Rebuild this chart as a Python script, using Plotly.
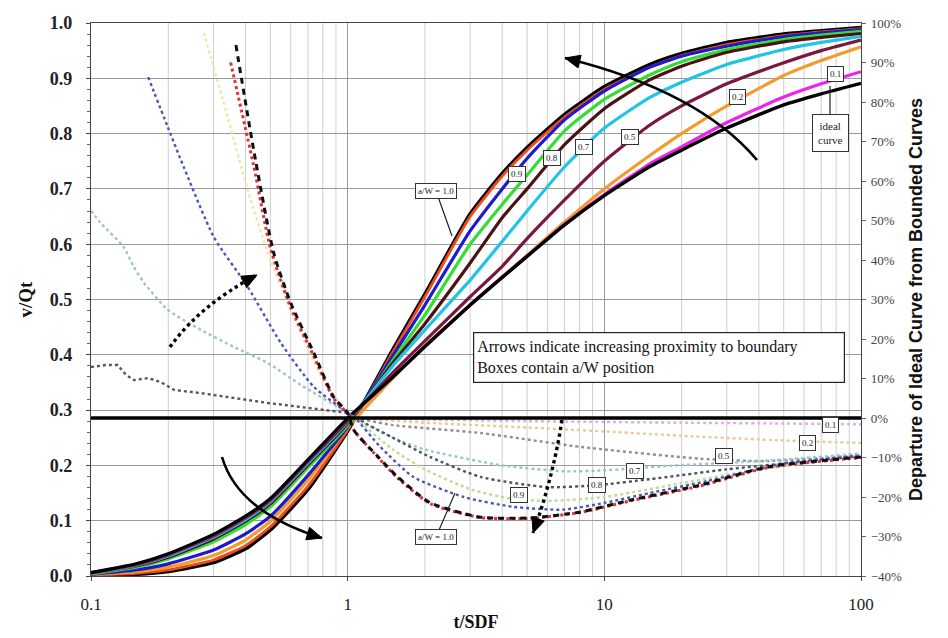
import math
import plotly.graph_objects as go

# ---------------- data ----------------
# Solid curves: v/Qt versus t/SDF (left axis)
x_grid = [0.1, 0.15, 0.2, 0.3, 0.4, 0.5, 0.7, 1, 1.5, 2, 3, 4, 5, 7, 10, 15, 20, 30, 50, 70, 100]
bound_top = [0.001, 0.003, 0.008, 0.024, 0.049, 0.083, 0.156, 0.262, 0.410, 0.510, 0.655, 0.728, 0.775, 0.835, 0.885, 0.925, 0.945, 0.965, 0.980, 0.986, 0.992]
aw_10 = [0.002, 0.005, 0.011, 0.029, 0.055, 0.089, 0.162, 0.264, 0.405, 0.505, 0.650, 0.723, 0.770, 0.830, 0.880, 0.920, 0.941, 0.961, 0.977, 0.984, 0.990]
aw_09 = [0.003, 0.011, 0.022, 0.047, 0.076, 0.108, 0.182, 0.270, 0.398, 0.490, 0.624, 0.700, 0.755, 0.825, 0.877, 0.920, 0.940, 0.958, 0.975, 0.982, 0.988]
aw_085 = [0.004, 0.016, 0.031, 0.062, 0.093, 0.125, 0.196, 0.272, 0.390, 0.472, 0.600, 0.672, 0.725, 0.805, 0.862, 0.906, 0.930, 0.952, 0.970, 0.978, 0.985]
aw_08 = [0.005, 0.018, 0.034, 0.067, 0.099, 0.131, 0.201, 0.276, 0.385, 0.456, 0.566, 0.648, 0.700, 0.780, 0.845, 0.897, 0.922, 0.947, 0.966, 0.974, 0.981]
aw_07 = [0.005, 0.019, 0.036, 0.070, 0.102, 0.134, 0.204, 0.278, 0.380, 0.445, 0.535, 0.605, 0.660, 0.740, 0.810, 0.865, 0.893, 0.925, 0.952, 0.965, 0.976]
aw_05 = [0.006, 0.020, 0.038, 0.072, 0.105, 0.137, 0.207, 0.280, 0.368, 0.425, 0.505, 0.560, 0.610, 0.680, 0.750, 0.815, 0.850, 0.890, 0.928, 0.950, 0.969]
aw_02 = [0.003, 0.008, 0.016, 0.037, 0.065, 0.099, 0.173, 0.268, 0.358, 0.416, 0.490, 0.541, 0.580, 0.640, 0.700, 0.760, 0.800, 0.850, 0.905, 0.932, 0.957]
aw_01 = [0.006, 0.021, 0.039, 0.074, 0.107, 0.139, 0.209, 0.284, 0.360, 0.415, 0.490, 0.540, 0.578, 0.636, 0.690, 0.745, 0.776, 0.820, 0.866, 0.890, 0.912]
ideal = [0.006, 0.022, 0.040, 0.075, 0.108, 0.140, 0.210, 0.285, 0.360, 0.415, 0.490, 0.540, 0.578, 0.635, 0.688, 0.740, 0.770, 0.810, 0.852, 0.872, 0.891]

# Departure curves (right axis, fraction)
dep10_x = [0.367, 0.43, 0.515, 0.6, 0.738, 0.882, 1.0, 1.055, 1.3, 1.565, 2.1, 3.29, 5.15, 8.06, 12.6, 23.6, 43.1, 100]
dep10_y = [0.944, 0.68, 0.418, 0.291, 0.165, 0.053, 0.013, -0.03, -0.095, -0.149, -0.215, -0.251, -0.253, -0.238, -0.208, -0.170, -0.124, -0.099]
dep10r_x = [0.35, 0.43, 0.5, 0.6, 0.74, 0.88, 1.0, 1.055, 1.3, 1.565, 2.1, 3.29, 5.15, 8.06, 12.6, 23.6, 43.1, 100]
dep10r_y = [0.90, 0.64, 0.43, 0.28, 0.155, 0.05, 0.01, -0.03, -0.097, -0.152, -0.217, -0.252, -0.254, -0.239, -0.21, -0.172, -0.126, -0.1]
dep_blue_x = [0.167, 0.199, 0.224, 0.301, 0.408, 0.549, 0.738, 1.0, 1.07, 1.34, 1.8, 2.83, 4.43, 6.9, 10, 15, 25, 50, 100]
dep_blue_y = [0.863, 0.737, 0.653, 0.458, 0.332, 0.19, 0.079, 0.013, 0.0, -0.073, -0.149, -0.2, -0.225, -0.232, -0.215, -0.19, -0.16, -0.115, -0.097]
dep_yel_x = [0.275, 0.335, 0.408, 0.489, 0.60, 0.785, 1.0, 1.07]
dep_yel_y = [0.975, 0.78, 0.577, 0.418, 0.273, 0.109, 0.013, 0.0]
dep_cyan_x = [0.1, 0.109, 0.134, 0.147, 0.161, 0.199, 0.268, 0.36, 0.489, 0.656, 1.0, 1.07, 1.5, 2, 4, 7, 9.6, 12.8, 19, 43, 100]
dep_cyan_y = [0.525, 0.494, 0.433, 0.382, 0.342, 0.274, 0.223, 0.18, 0.139, 0.084, 0.013, 0.0, -0.05, -0.08, -0.12, -0.135, -0.133, -0.128, -0.12, -0.108, -0.09]
dep_dark_x = [0.1, 0.114, 0.127, 0.137, 0.147, 0.167, 0.187, 0.211, 0.268, 0.36, 0.489, 0.656, 1.0, 1.07]
dep_dark_y = [0.129, 0.134, 0.134, 0.109, 0.096, 0.101, 0.091, 0.071, 0.063, 0.051, 0.038, 0.028, 0.013, 0.0]
dep01_x = [1.07, 2, 5, 10, 20, 50, 100]
dep01_y = [0.0, -0.004, -0.008, -0.01, -0.012, -0.014, -0.016]
dep02_x = [1.07, 2, 5, 10, 20, 50, 100]
dep02_y = [0.0, -0.012, -0.024, -0.034, -0.045, -0.057, -0.063]
dep05_x = [1.07, 1.5, 3.29, 8.06, 23.6, 43, 100]
dep05_y = [0.0, -0.018, -0.038, -0.073, -0.103, -0.109, -0.094]
dep08_x = [1.07, 1.5, 2.1, 3.29, 6.0, 9.4, 15, 30, 60, 100]
dep08_y = [0.0, -0.05, -0.099, -0.149, -0.175, -0.17, -0.155, -0.13, -0.11, -0.095]
dep09_x = [1.07, 1.5, 2, 3, 4.4, 6, 10, 20, 40, 100]
dep09_y = [0.0, -0.08, -0.13, -0.18, -0.205, -0.21, -0.2, -0.165, -0.13, -0.097]

x_tick_vals = [0.1, 1, 10, 100]
x_tick_text = ["0.1", "1", "10", "100"]

upper_labels = ["a/W = 1.0", "0.9", "0.8", "0.7", "0.5", "0.2", "0.1"]
lower_labels = ["a/W = 1.0", "0.9", "0.8", "0.7", "0.5", "0.2", "0.1"]
note_text = "Arrows indicate increasing proximity to boundary<br>Boxes contain a/W position"

# ---------------- layout geometry ----------------
# The page body adds an 8px offset, so the figure is 8px smaller and margins shifted.
OFF = 8
W, H = 948 - OFF, 638 - OFF
L, R, T, B = 91, 861, 23, 576          # plot area in window pixels
PW, PH = R - L, B - T


def P(px, py):
    return (px - L) / PW, (B - py) / PH


SERIF = "Liberation Serif"
SANS = "Liberation Sans"

fig = go.Figure()


def dep(x, y, color, dash="dot", width=2.4, shape="spline"):
    fig.add_trace(go.Scatter(x=x, y=y, yaxis="y2", mode="lines", hoverinfo="skip",
                             line=dict(color=color, width=width, dash=dash, shape=shape, smoothing=0.6)))


dep(dep01_x, dep01_y, "#d9b0e0")
dep(dep02_x, dep02_y, "#f0c890")
dep(dep05_x, dep05_y, "#8f8f98")
dep(dep_cyan_x, dep_cyan_y, "#9cc4cc")
dep(dep08_x, dep08_y, "#50505e")
dep(dep09_x, dep09_y, "#bcdc98")
dep(dep_yel_x, dep_yel_y, "#ece8a4")
dep(dep_dark_x, dep_dark_y, "#55556a", shape="linear")
dep(dep_blue_x, dep_blue_y, "#4a58b8")
dep(dep10r_x, dep10r_y, "#e0303c", dash="dot", width=3)
dep(dep10_x, dep10_y, "#111111", dash="6px,5px", width=3)


def solid(y, color, width=3.2):
    fig.add_trace(go.Scatter(x=x_grid, y=y, mode="lines", hoverinfo="skip",
                             line=dict(color=color, width=width, shape="spline", smoothing=0.5)))


solid(bound_top, "#000000", 3.4)
solid(aw_10, "#f04a18", 2.8)
solid(aw_02, "#f39c2e")
solid(aw_09, "#1c1ccc")
solid(aw_085, "#33dd33")
solid(aw_08, "#4a1212")
solid(aw_07, "#22c4e6")
solid(aw_05, "#7a1840")
solid(aw_01, "#ee22ee")
solid(ideal, "#000000", 3.4)

shapes = []
# minor vertical grid lines of the log axis
for dec in (-1, 0, 1):
    for m in range(2, 10):
        xp = (dec + math.log10(m) + 1) / 3
        shapes.append(dict(type="line", xref="paper", yref="paper", x0=xp, x1=xp, y0=0, y1=1,
                           line=dict(color="#cfcfcf", width=1), layer="below"))
# 0% line of the right axis
shapes.append(dict(type="line", xref="paper", yref="y2", x0=0, x1=1, y0=0, y1=0,
                   line=dict(color="#000000", width=3.5), layer="above"))


def arrow(p0, c, p2, dash="solid", width=2.6):
    a, b, e = P(*p0), P(*c), P(*p2)
    shapes.append(dict(type="path", xref="paper", yref="paper",
                       path=f"M {a[0]},{a[1]} Q {b[0]},{b[1]} {e[0]},{e[1]}",
                       line=dict(color="#000000", width=width, dash=dash)))
    dx, dy = p2[0] - c[0], p2[1] - c[1]
    n = math.hypot(dx, dy)
    dx, dy = dx / n, dy / n
    hl, hw = 15, 6.5
    bx, by = p2[0] - dx * hl, p2[1] - dy * hl
    q1 = P(bx - dy * hw, by + dx * hw)
    q2 = P(bx + dy * hw, by - dx * hw)
    t = P(*p2)
    shapes.append(dict(type="path", xref="paper", yref="paper",
                       path=f"M {t[0]},{t[1]} L {q1[0]},{q1[1]} L {q2[0]},{q2[1]} Z",
                       fillcolor="#000000", line=dict(color="#000000", width=1)))


arrow((757, 160), (699, 91), (565, 58))
arrow((222, 457), (238, 512), (322, 538))
arrow((170, 347), (200, 305), (257, 275), dash="dot", width=3.4)
arrow((562, 420), (553, 478), (533, 533), dash="dot", width=3.4)

annotations = []


def box(text, px, py, target=None, size=9, pad=2):
    x, y = P(px, py)
    d = dict(text=text, xref="paper", yref="paper", font=dict(family=SERIF, size=size, color="#222"),
             bgcolor="white", bordercolor="#333", borderwidth=1, borderpad=pad,
             xanchor="center", yanchor="middle")
    if target is None:
        d.update(x=x, y=y, showarrow=False)
    else:
        tx, ty = P(*target)
        d.update(x=tx, y=ty, ax=px - target[0], ay=py - target[1], showarrow=True,
                 arrowhead=0, arrowwidth=1.2, arrowcolor="#222")
    annotations.append(d)


upper_pos = [(436, 191), (517, 174), (552, 158), (584, 147), (630, 137), (737, 97), (835, 74)]
lower_pos = [(436, 537), (519, 495), (597, 485), (635, 471), (724, 456), (807, 443), (830, 425)]
for i, (lab, pos) in enumerate(zip(upper_labels, upper_pos)):
    box(lab, pos[0], pos[1], target=(452, 236) if i == 0 else None)
for i, (lab, pos) in enumerate(zip(lower_labels, lower_pos)):
    box(lab, pos[0], pos[1], target=(455, 493) if i == 0 else None)
box("ideal<br>curve", 830, 133, target=(830, 86), size=11, pad=5)

nx, ny = P(659, 357)
annotations.append(dict(text=note_text, xref="paper", yref="paper", x=nx, y=ny, showarrow=False,
                        xanchor="center", yanchor="middle",
                        align="left", width=364, height=43, bgcolor="white", bordercolor="#222",
                        borderwidth=1.2, borderpad=3, font=dict(family=SERIF, size=16, color="#111")))

fig.update_layout(
    width=W, height=H,
    margin=dict(l=L - OFF, r=W - (R - OFF), t=T - OFF, b=H - (B - OFF), pad=0),
    paper_bgcolor="white", plot_bgcolor="white",
    showlegend=False,
    shapes=shapes, annotations=annotations,
    xaxis=dict(type="log", range=[-1, 2], tickvals=x_tick_vals, ticktext=x_tick_text,
               showgrid=True, gridcolor="#9a9a9a", gridwidth=1,
               showline=True, linecolor="#444", linewidth=1.2, mirror=True,
               ticks="outside", ticklen=4, tickcolor="#444", ticklabelstandoff=8,
               tickfont=dict(family=SERIF, size=17, color="#222"),
               title=dict(text="<b>t/SDF</b>", font=dict(family=SERIF, size=18, color="#111"), standoff=2),
               automargin=False, zeroline=False),
    yaxis=dict(range=[0, 1], dtick=0.1, tickformat=".1f",
               showgrid=True, gridcolor="#9a9a9a", gridwidth=1,
               showline=True, linecolor="#444", linewidth=1.2,
               ticks="outside", ticklen=4, tickcolor="#444", ticklabelstandoff=10,
               minor=dict(dtick=0.02, ticks="outside", ticklen=3, tickcolor="#666", showgrid=False),
               tickfont=dict(family=SERIF, size=18, color="#222", weight="bold"),
               title=dict(text="<b>v/Qt</b>", font=dict(family=SERIF, size=19, color="#111"), standoff=12),
               automargin=False, zeroline=False),
    yaxis2=dict(range=[-0.4, 1.0], dtick=0.1, tickformat=".0%", overlaying="y", side="right",
                showgrid=False, showline=True, linecolor="#444", linewidth=1.2,
                ticks="outside", ticklen=4, tickcolor="#666", ticklabelstandoff=2,
                tickfont=dict(family=SERIF, size=13, color="#444"),
                title=dict(text="<b>Departure of Ideal Curve from Bounded Curves</b>",
                           font=dict(family=SANS, size=18, color="#111"), standoff=8),
                automargin=False, zeroline=False),
)

fig.write_html("out.html")
